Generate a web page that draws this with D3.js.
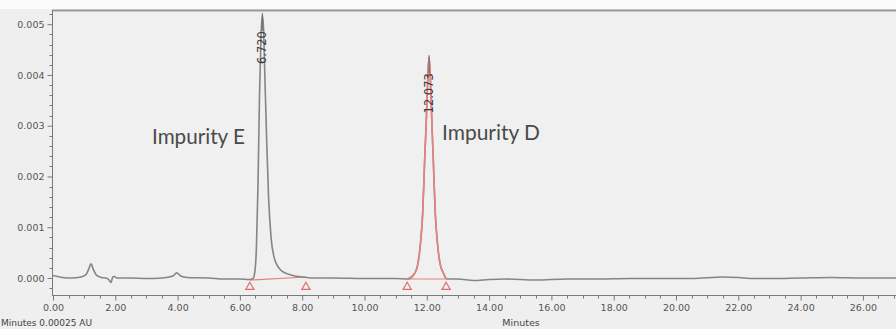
<!DOCTYPE html>
<html>
<head>
<meta charset="utf-8">
<script src="https://cdn.jsdelivr.net/npm/d3@7"></script>
<style>
  html, body { margin: 0; padding: 0; background: #efefef; }
  svg { display: block; }
</style>
</head>
<body>
<svg id="chart" width="896" height="329"></svg>
<script>
// ---- data ----
const xTickValues = [0, 2, 4, 6, 8, 10, 12, 14, 16, 18, 20, 22, 24, 26];
const yTickValues = [0, 0.001, 0.002, 0.003, 0.004, 0.005];

// main (gray) detector trace: retention time (min) and absorbance (AU)
const traceTime = [0.00, 0.30, 0.60, 0.90, 1.05, 1.15, 1.22, 1.30, 1.40, 1.55, 1.70, 1.80, 1.86, 1.92, 1.97, 2.05, 2.50, 3.00, 3.50,
  3.85, 3.97, 4.10, 4.30, 5.00, 5.50, 6.00, 6.30, 6.42, 6.48, 6.53, 6.58, 6.63, 6.68, 6.72, 6.76, 6.80, 6.86, 6.92, 7.00,
  7.10, 7.25, 7.45, 7.70, 8.00, 8.30, 9.00, 10.00, 11.00, 11.40, 11.62, 11.72, 11.80, 11.87, 11.93, 11.99, 12.035, 12.073,
  12.11, 12.155, 12.21, 12.27, 12.34, 12.42, 12.53, 12.65, 13.00, 13.50, 14.00, 14.50, 15.50, 16.50, 17.50, 18.50, 19.50,
  20.50, 21.50, 22.00, 22.50, 23.00, 24.00, 25.00, 26.00, 27.20];
const traceAU = [0.00005, 0.00001, 0.00000, 0.00002, 0.00006, 0.00018, 0.00028, 0.00016, 0.00005, 0.00001, 0.00000, -0.00004, -0.00009, 0.00002, 0.00003, 0.00000, 0.00000, -0.00001, 0.00000,
  0.00004, 0.00010, 0.00004, 0.00001, 0.00000, -0.00002, -0.00002, -0.00003, -0.00001, 0.00012, 0.00060, 0.00180, 0.00360, 0.00480, 0.00518, 0.00490, 0.00400, 0.00270, 0.00160, 0.00080,
  0.00040, 0.00020, 0.00010, 0.00005, 0.00002, 0.00000, 0.00000, -0.00001, -0.00001, -0.00002, 0.00010, 0.00030, 0.00070, 0.00130, 0.00230, 0.00320, 0.00400, 0.00435,
  0.00400, 0.00320, 0.00230, 0.00130, 0.00070, 0.00030, 0.00010, -0.00002, -0.00002, -0.00005, -0.00003, -0.00002, -0.00004, -0.00002, -0.00002, -0.00001, -0.00001,
  -0.00001, 0.00002, 0.00001, -0.00001, -0.00001, 0.00000, 0.00001, 0.00000, 0.00000];

// integrated peak D segment (drawn in red)
const peakDTime = [11.37, 11.62, 11.72, 11.80, 11.87, 11.93, 11.99, 12.035, 12.073, 12.11, 12.155, 12.21, 12.27, 12.34, 12.42, 12.53, 12.62];
const peakDAU = [-0.00002, 0.00010, 0.00030, 0.00070, 0.00130, 0.00230, 0.00320, 0.00400, 0.00435, 0.00400, 0.00320, 0.00230, 0.00130, 0.00070, 0.00030, 0.00010, -0.00002];

// peak annotations
const peakNames = ["Impurity E", "Impurity D"];
const peakRT = [6.720, 12.073];
const peakTopAU = [0.00518, 0.00435];
const peakRTLabels = ["6.720", "12.073"];

// integration start/end markers and baseline values
const markerStart = [6.32, 11.37];
const markerEnd = [8.12, 12.62];
const markerStartAU = [-0.00004, -0.00002];
const markerEndAU = [0.00002, -0.00002];

// ---- chart ----
const W = 896, H = 329;
const svg = d3.select("#chart");
const x = d3.scaleLinear().domain([0, 28]).range([53, 53 + 28 * 31.15]);
const y = d3.scaleLinear().domain([-0.000335, 0.00526]).range([295, 11]);

const axisColor = "#7a7a7a";
const textColor = "#555";

// top white strip and plot background
svg.append("rect").attr("x", 0).attr("y", 0).attr("width", W).attr("height", 9).attr("fill", "#fbfbfb");
svg.append("rect").attr("x", 53).attr("y", 11).attr("width", W - 53).attr("height", 284).attr("fill", "#f0f0f0");

// top frame line
svg.append("line").attr("x1", 52).attr("x2", W).attr("y1", 10.5).attr("y2", 10.5)
  .attr("stroke", "#9a9a9a").attr("stroke-width", 2);

// Y axis
const yAxis = d3.axisLeft(y).tickValues(yTickValues).tickFormat(d3.format(".3f")).tickSize(5).tickPadding(3);
const gy = svg.append("g").attr("transform", "translate(52.5,0)").call(yAxis);
gy.select(".domain").attr("stroke", axisColor).attr("d", `M0,${y.range()[1] - 1}V${y.range()[0]}`);
gy.selectAll(".tick line").attr("stroke", axisColor);
gy.selectAll(".tick text").attr("fill", textColor).style("font-family", "DejaVu Sans").style("font-size", "9.5px");
const yMinor = d3.range(-0.0002, 0.00521, 0.0002).filter(v => Math.abs(v / 0.001 - Math.round(v / 0.001)) > 1e-6);
svg.append("g").selectAll("line").data(yMinor).join("line")
  .attr("x1", 49.5).attr("x2", 52.5).attr("y1", d => Math.round(y(d)) + 0.5).attr("y2", d => Math.round(y(d)) + 0.5)
  .attr("stroke", axisColor);

// X axis
const xAxis = d3.axisBottom(x).tickValues(xTickValues).tickFormat(d3.format(".2f")).tickSize(5).tickPadding(4);
const gx = svg.append("g").attr("transform", "translate(0,295.5)").call(xAxis);
gx.select(".domain").attr("stroke", axisColor).attr("d", `M52,0H${W}`);
gx.selectAll(".tick line").attr("stroke", axisColor);
gx.selectAll(".tick text").attr("fill", textColor).style("font-family", "DejaVu Sans").style("font-size", "9.5px");
const xMinor = d3.range(0.5, 27.5, 0.5).filter(v => v % 2 !== 0);
svg.append("g").selectAll("line").data(xMinor).join("line")
  .attr("x1", d => Math.round(x(d)) + 0.5).attr("x2", d => Math.round(x(d)) + 0.5)
  .attr("y1", 295.5).attr("y2", 298.5).attr("stroke", axisColor);

// axis titles
svg.append("text").attr("x", 521).attr("y", 326).attr("text-anchor", "middle")
  .attr("fill", "#444").style("font-family", "DejaVu Sans").style("font-size", "9.5px").text("Minutes");
svg.append("text").attr("x", 1).attr("y", 326)
  .attr("fill", "#444").style("font-family", "DejaVu Sans").style("font-size", "9px").text("Minutes  0.00025 AU");

// clip for traces
svg.append("clipPath").attr("id", "plotclip").append("rect")
  .attr("x", 53).attr("y", 11).attr("width", W - 53).attr("height", 284);

const line = d3.line().x(d => x(d[0])).y(d => y(d[1])).curve(d3.curveMonotoneX);
const plot = svg.append("g").attr("clip-path", "url(#plotclip)");

// integration baselines (red)
plot.selectAll("line.base").data(markerStart).join("line").attr("class", "base")
  .attr("x1", (d) => x(d)).attr("x2", (d, i) => x(markerEnd[i]))
  .attr("y1", (d, i) => y(markerStartAU[i])).attr("y2", (d, i) => y(markerEndAU[i]))
  .attr("stroke", "#e77f7f").attr("stroke-width", 1.2);

// main gray trace
plot.append("path").datum(traceTime.map((t, i) => [t, traceAU[i]]))
  .attr("d", line).attr("fill", "none").attr("stroke", "#858585").attr("stroke-width", 1.6);

// peak D red trace
plot.append("path").datum(peakDTime.map((t, i) => [t, peakDAU[i]]))
  .attr("d", line).attr("fill", "none").attr("stroke", "#ea8080").attr("stroke-width", 1.6);

// peak top stems
plot.selectAll("line.stem").data(peakRT).join("line").attr("class", "stem")
  .attr("x1", d => x(d)).attr("x2", d => x(d))
  .attr("y1", (d, i) => y(peakTopAU[i]) - 2).attr("y2", (d, i) => y(peakTopAU[i]) + 16)
  .attr("stroke", "#666").attr("stroke-width", 1);

// retention time labels (rotated)
svg.selectAll("text.rt").data(peakRTLabels).join("text").attr("class", "rt")
  .attr("transform", (d, i) => `translate(${x(peakRT[i])},${y(peakTopAU[i]) + 16}) rotate(-90)`)
  .attr("text-anchor", "end").attr("dy", "0.36em")
  .attr("fill", "#3a3a3a").style("font-family", "DejaVu Sans").style("font-size", "11.5px")
  .text(d => d);

// markers (red outlined triangles)
const markerTimes = markerStart.concat(markerEnd);
const tri = d3.symbol().type(d3.symbolTriangle).size(30);
svg.selectAll("path.mk").data(markerTimes).join("path").attr("class", "mk")
  .attr("transform", d => `translate(${x(d)},287)`)
  .attr("d", tri).attr("fill", "none").attr("stroke", "#e06a6a").attr("stroke-width", 1.1);

// peak names
const namePos = [[152, 144, 93], [442, 140, 98]];
svg.selectAll("text.name").data(peakNames).join("text").attr("class", "name")
  .attr("x", (d, i) => namePos[i][0]).attr("y", (d, i) => namePos[i][1])
  .attr("fill", "#4a4a4a").style("font-family", "Lato, 'Open Sans', sans-serif").style("font-size", "19px")
  .text(d => d)
  .each(function (d, i) {
    const w = this.getComputedTextLength();
    const fs = 19 * namePos[i][2] / w;
    d3.select(this).style("font-size", fs.toFixed(2) + "px");
  });
</script>
</body>
</html>
